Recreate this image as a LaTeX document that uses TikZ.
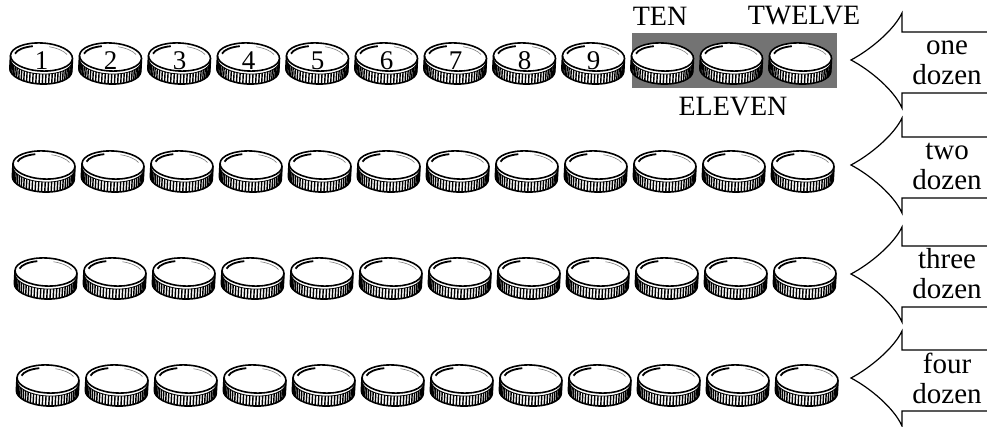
\documentclass[tikz,border=0pt]{standalone}
\usepackage{fontspec}
\setmainfont{Liberation Serif}
\tikzset{
  coinline/.style={line width=1.6pt},
  ridge/.style={line width=1.4pt},
  arrowline/.style={line width=1.2pt},
  numlbl/.style={font=\fontsize{27}{27}\selectfont, inner sep=0pt},
  caplbl/.style={font=\fontsize{28}{28}\selectfont, inner sep=0pt},
  dozlbl/.style={font=\fontsize{29}{30}\selectfont, align=center, inner sep=0pt},
  coin/.pic={
    % Ребро монеты
    \fill[white] (-31,0) -- (-31,13) arc (180:0:31 and 14) -- (31,0) arc (0:-180:31 and 14) -- cycle;
    \foreach \t in {8,14,...,172}
      \draw[ridge] ({31*cos(\t)},{14*sin(\t)+3}) -- ++(0,10);
    \draw[line width=0.8pt] (180:31 and 14) ++(0,3) arc (180:0:31 and 14);
    \draw[coinline] (-31,0) -- (-31,13) arc (180:0:31 and 14) -- (31,0);
    % Верх монеты
    \draw[coinline, fill=white] (0,0) ellipse (31 and 14);
    \draw[line width=1.8pt] (190:27 and 11) arc (190:250:27 and 11);
    \draw[black!50, line width=0.6pt] (285:27 and 11) arc (285:340:27 and 11);
  }
}
\begin{document}
\begin{tikzpicture}[x=1pt, y=-1pt]
	\useasboundingbox (0,0) rectangle (987,427);
	
	% Десятая, одиннадцатая и двенадцатая монеты
	\fill[black!55] (632,33) rectangle (837,88);
	\node[caplbl] (ten) at (660,16) {TEN};
	\node[caplbl] (twelve) at (804,16) {TWELVE};
	\node[caplbl] (eleven) at (733,107) {ELEVEN};
	
	% Первая дюжина
	\foreach \i in {1,...,12}
		\pic[rotate=-3] at ({41.5+69*(\i-1)},57) {coin};
	\foreach \i in {1,...,9}
		\node[numlbl] (num\i) at ({41.5+69*(\i-1)},61) {\i};
	
	% Остальные дюжины
	\foreach \y/\x in {165/44, 272/46, 379/48}
		\foreach \i in {0,...,11}
			\pic[rotate=-3] at ({\x+69*\i},\y) {coin};
	
	% Стрелки
	\foreach \y/\n/\w in {60/1/one, 165/2/two, 274/3/three, 378/4/four} {
		\draw[arrowline] (987,\y-28) -- (902,\y-28) -- (902,\y-47)
			.. controls (894,\y-30) and (870,\y-10) .. (851,\y)
			.. controls (870,\y+10) and (894,\y+30) .. (902,\y+48)
			-- (902,\y+33) -- (987,\y+33);
		\node[dozlbl, anchor=base] (lbl\n) at (947,\y+25) {\w\\dozen};
	}
\end{tikzpicture}
\end{document}
